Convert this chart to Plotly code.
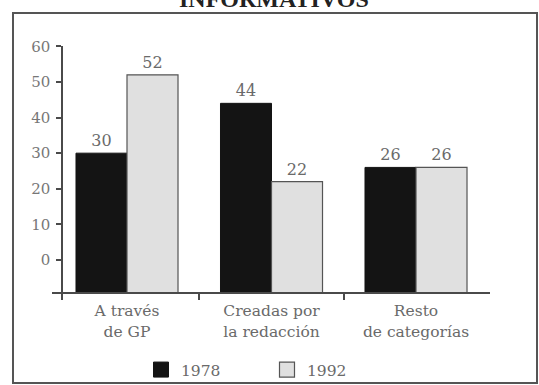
import plotly.graph_objects as go

categories = ["A través<br>de GP", "Creadas por<br>la redacción", "Resto<br>de categorías"]
years = ["1978", "1992"]
values_1978 = [30, 44, 26]
values_1992 = [52, 22, 26]
y_ticks = [0, 10, 20, 30, 40, 50, 60]
title_text = "INFORMATIVOS"

W, H = 539, 385
L, R, T, B = 52, 49, 46, 85
PW, PH = W - L - R, H - T - B

def px(xp):
    return (xp - L) / PW

def py(yp):
    return (H - B - yp) / PH

BASE = -9.27
xpos = [0, 1, 2]

FONT = "DejaVu Serif"
GRAY = "#6a6a6a"
LINE = "#4a4a4a"

fig = go.Figure()
fig.add_trace(go.Bar(
    x=xpos, y=[v - BASE for v in values_1978], base=BASE,
    text=[str(v) for v in values_1978], textposition="outside",
    textfont=dict(family=FONT, size=16, color=GRAY),
    marker=dict(color="#141414", line=dict(color="#141414", width=1)),
    showlegend=False, cliponaxis=False,
))
fig.add_trace(go.Bar(
    x=xpos, y=[v - BASE for v in values_1992], base=BASE,
    text=[str(v) for v in values_1992], textposition="outside",
    textfont=dict(family=FONT, size=16, color=GRAY),
    marker=dict(color="#e0e0e0", line=dict(color="#555555", width=1.2)),
    showlegend=False, cliponaxis=False,
))
# legend entries
fig.add_trace(go.Scatter(x=[None], y=[None], mode="markers", name=years[0],
                         marker=dict(symbol="square", size=15, color="#141414",
                                     line=dict(color="#141414", width=1))))
fig.add_trace(go.Scatter(x=[None], y=[None], mode="markers", name=years[1],
                         marker=dict(symbol="square", size=15, color="#e0e0e0",
                                     line=dict(color="#555555", width=1.2))))

xr = [(L - 127) / 144.5, (L + PW - 127) / 144.5]
yr = [BASE - 7 / 3.56, 60.1]

fig.update_layout(
    width=W, height=H,
    margin=dict(l=L, r=R, t=T, b=B, autoexpand=False),
    paper_bgcolor="white", plot_bgcolor="white",
    barmode="group", bargap=0.294, bargroupgap=0,
    font=dict(family=FONT, color=GRAY),
    xaxis=dict(range=xr, anchor="free", position=py(293), automargin=False,
               tickmode="array", tickvals=xpos, ticktext=categories,
               ticks="", showline=True, linecolor=LINE, linewidth=1.5,
               showgrid=False, zeroline=False, ticklabelstandoff=4,
               tickfont=dict(family=FONT, size=15.5, color=GRAY),
               minor=dict(tickmode="array", tickvals=[0.5, 1.5], ticks="outside",
                          ticklen=6, tickcolor=LINE, tickwidth=1.5)),
    xaxis2=dict(range=xr, overlaying="x", anchor="free", position=py(293),
                tickmode="array", tickvals=[0.5, 1.5], ticks="inside", ticklen=7,
                tickcolor=LINE, tickwidth=1.5, showticklabels=False,
                showline=False, showgrid=False, zeroline=False),
    yaxis=dict(range=yr, anchor="free", position=px(62), automargin=False,
               tickmode="array", tickvals=y_ticks, ticks="outside", ticklen=5,
               tickcolor=LINE, tickwidth=1.5, ticklabelstandoff=3,
               showline=True, linecolor=LINE, linewidth=1.5,
               showgrid=False, zeroline=False,
               tickfont=dict(family=FONT, size=15, color="#777777")),
    yaxis2=dict(range=yr, overlaying="y", anchor="free", position=px(62),
                tickmode="array", tickvals=y_ticks, ticks="inside", ticklen=5,
                tickcolor=LINE, tickwidth=1.5, showticklabels=False,
                showline=False, showgrid=False, zeroline=False),
    legend=dict(orientation="h", xref="container", yref="container",
                x=141 / W, y=1 - 353 / H, xanchor="left", yanchor="top",
                font=dict(family=FONT, size=15.5, color=GRAY),
                entrywidth=81, entrywidthmode="pixels",
                bgcolor="rgba(0,0,0,0)"),
    shapes=[dict(type="rect", xref="paper", yref="paper",
                 x0=px(13), x1=px(537), y0=py(383), y1=py(13),
                 line=dict(color="#555555", width=2), layer="below")],
    annotations=[dict(text="<b>" + title_text + "</b>", xref="paper", yref="paper",
                      x=px(274), y=py(14), xanchor="center", yanchor="bottom",
                      showarrow=False,
                      font=dict(family="Liberation Serif", size=24, color="#222222"))],
)

fig.write_html("out.html")
